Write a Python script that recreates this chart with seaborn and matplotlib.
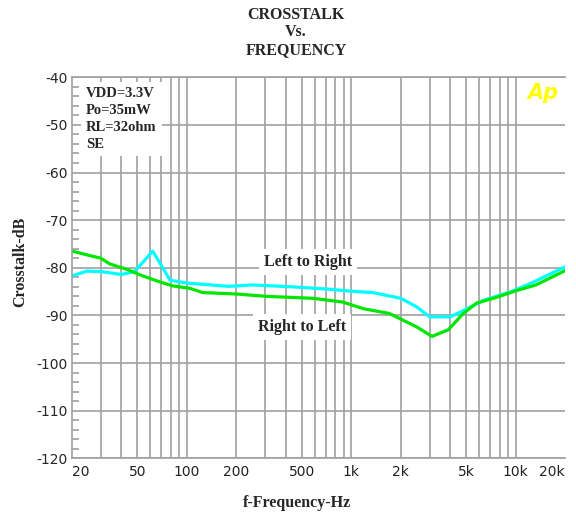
import numpy as np
import pandas as pd
import matplotlib
matplotlib.use('Agg')
import matplotlib.pyplot as plt
import matplotlib.ticker as mticker
import seaborn as sns

# Left to Right (cyan)
freq_lr = [20, 24.6, 30, 40, 48, 62, 79, 100, 180, 250, 440, 740, 980, 1350,
           2000, 2500, 3000, 4000, 5000, 6400, 9400, 12300, 20000]
db_lr = [-81.7, -80.7, -80.8, -81.4, -80.8, -76.5, -82.6, -83.2, -83.9, -83.6,
         -84.0, -84.5, -84.9, -85.2, -86.4, -88.2, -90.3, -90.3, -88.7, -86.8,
         -85.0, -83.3, -79.8]

# Right to Left (green)
freq_rl = [20, 30, 34, 43, 52, 65, 82, 104, 125, 200, 305, 585, 890, 1190,
           1710, 2500, 3100, 3900, 4800, 5800, 7500, 10100, 13300, 20000]
db_rl = [-76.5, -78.0, -79.2, -80.3, -81.5, -82.7, -83.8, -84.3, -85.2, -85.5,
         -86.0, -86.4, -87.2, -88.6, -89.6, -92.4, -94.4, -93.0, -89.6, -87.4,
         -86.3, -84.8, -83.6, -80.6]

xtick_vals = [20, 50, 100, 200, 500, 1000, 2000, 5000, 10000, 20000]
xtick_labels = ['20', '50', '100', '200', '500', '1k', '2k', '5k', '10k', '20k']
ytick_vals = list(range(-120, -39, 10))

df = pd.concat([
    pd.DataFrame({'f': freq_lr, 'dB': db_lr, 'dir': 'Left to Right'}),
    pd.DataFrame({'f': freq_rl, 'dB': db_rl, 'dir': 'Right to Left'}),
])

sns.set_style('white')
plt.rcParams['font.family'] = ['DejaVu Sans']
plt.rcParams['axes.unicode_minus'] = False

grid_col = '#a0a0a0'
serif = ['Liberation Serif', 'DejaVu Serif']

fig = plt.figure(figsize=(5.76, 5.15), dpi=100)
ax = fig.add_axes([0.125, 0.110, 0.856, 0.740])

sns.lineplot(data=df, x='f', y='dB', hue='dir', estimator=None,
             palette={'Left to Right': '#00ffff', 'Right to Left': '#00e600'},
             linewidth=2.3, legend=False, ax=ax, zorder=2)

ax.set_xscale('log')
ax.set_xlim(20, 20000)
ax.set_ylim(-120, -40)
ax.set_xlabel('')
ax.set_ylabel('')

ax.xaxis.set_major_locator(mticker.FixedLocator(xtick_vals))
ax.xaxis.set_major_formatter(mticker.FixedFormatter(xtick_labels))
minor_x = [m * 10 ** d for d in range(1, 5) for m in range(1, 10)]
minor_x = [v for v in minor_x if 30 <= v <= 10000]
ax.xaxis.set_minor_locator(mticker.FixedLocator(minor_x))
ax.xaxis.set_minor_formatter(mticker.NullFormatter())
ax.xaxis.remove_overlapping_locs = False

ax.yaxis.set_major_locator(mticker.FixedLocator(ytick_vals))
ax.yaxis.set_minor_locator(mticker.MultipleLocator(2))

ax.set_axisbelow(True)
ax.grid(False)
ax.grid(which='minor', axis='x', color=grid_col, linewidth=1.2)
ax.grid(which='major', axis='y', color=grid_col, linewidth=1.2)

ax.tick_params(axis='x', which='both', length=0, pad=5, labelsize=10)
ax.tick_params(axis='y', which='major', length=0, pad=3, labelsize=10)
ax.tick_params(axis='y', which='minor', direction='in', length=5,
               width=1.2, color=grid_col, left=True)
for lab in ax.get_xticklabels():
    lab.set_color('#222222')
ax.get_xticklabels()[0].set_horizontalalignment('left')
ax.get_xticklabels()[-1].set_horizontalalignment('right')

for side in ['left', 'bottom', 'top']:
    ax.spines[side].set_color(grid_col)
    ax.spines[side].set_linewidth(1.2)
ax.spines['right'].set_visible(False)

ax.text(0.028, 0.975, 'VDD=3.3V\nPo=35mW\nRL=32ohm\nSE', transform=ax.transAxes,
        ha='left', va='top', fontsize=10.5, fontweight='bold', family=serif,
        linespacing=1.42, zorder=3,
        bbox=dict(boxstyle='square,pad=0.35', facecolor='white', edgecolor='none'))

ax.text(544, -78.8, 'Left to Right', ha='center', va='center', fontsize=11.5,
        fontweight='bold', family=serif, zorder=3,
        bbox=dict(boxstyle='square,pad=0.3', facecolor='white', edgecolor='none'))
ax.text(500, -92.45, 'Right to Left', ha='center', va='center', fontsize=11.5,
        fontweight='bold', family=serif, zorder=3,
        bbox=dict(boxstyle='square,pad=0.3', facecolor='white', edgecolor='none'))

fig.text(0.514, 0.937, 'CROSSTALK\nVs.\nFREQUENCY', ha='center', va='center',
         fontsize=11.5, fontweight='bold', family=serif, linespacing=1.15)
fig.text(0.515, 0.0233, 'f-Frequency-Hz', ha='center', va='center',
         fontsize=11.5, fontweight='bold', family=serif)
fig.text(0.035, 0.491, 'Crosstalk-dB', ha='center', va='center', rotation=90,
         fontsize=11.5, fontweight='bold', family=serif)
fig.text(0.943, 0.819, 'Ap', ha='center', va='center', fontsize=15,
         fontweight='bold', style='italic', color='#ffff00')

fig.savefig('out.png', dpi=100)
